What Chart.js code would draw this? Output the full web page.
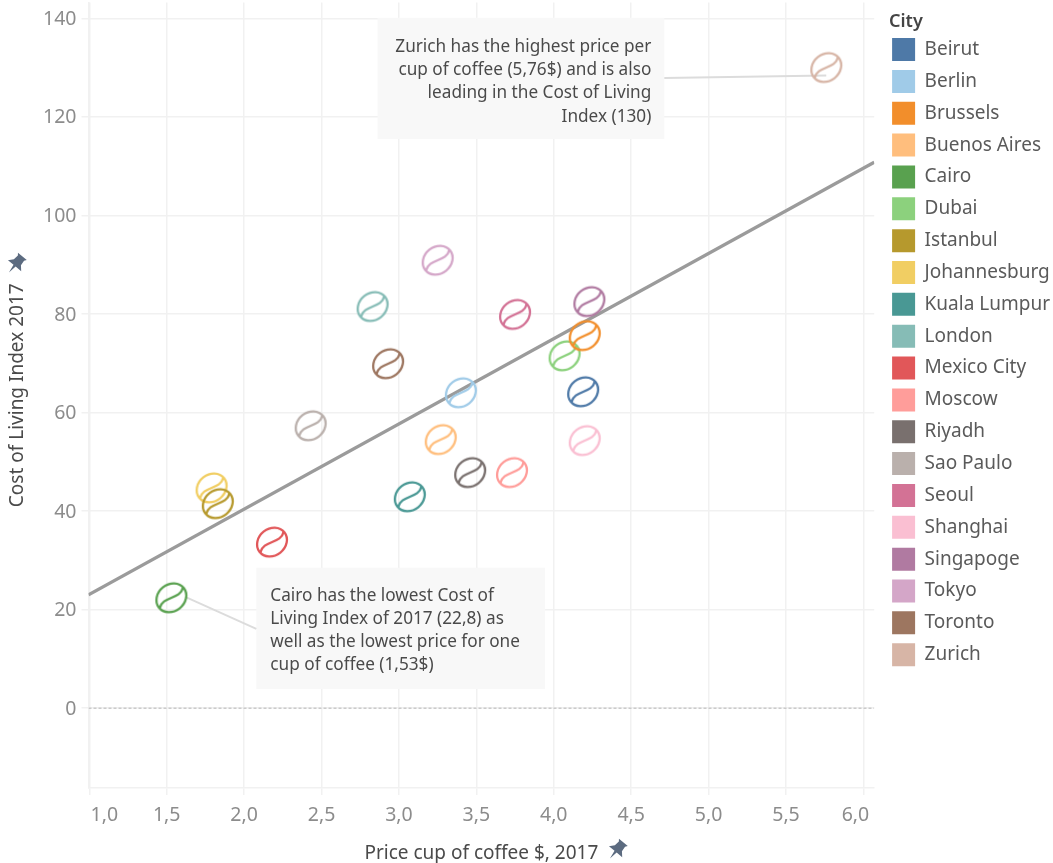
<!DOCTYPE html>
<html><head><meta charset="utf-8">
<style>html,body{margin:0;padding:0;background:#fff}#w{width:1053px;height:863px;position:relative}</style>
<script src="https://cdn.jsdelivr.net/npm/chart.js@4/dist/chart.umd.js"></script>
</head><body><div id="w"><canvas id="c" width="1053" height="863"></canvas></div>
<script>
const cities=["Beirut","Berlin","Brussels","Buenos Aires","Cairo","Dubai","Istanbul","Johannesburg","Kuala Lumpur","London","Mexico City","Moscow","Riyadh","Sao Paulo","Seoul","Shanghai","Singapoge","Tokyo","Toronto","Zurich"];
const price=[4.19,3.40,4.20,3.27,1.53,4.07,1.83,1.79,3.07,2.83,2.18,3.73,3.46,2.43,3.75,4.20,4.23,3.25,2.93,5.76];
const living=[64.2,64,75.6,54.5,22.4,71.5,41.5,44.7,42.9,81.5,33.7,47.8,47.8,57.3,79.9,54.3,82.5,90.9,69.9,130];
const colors=["#4e79a7","#a0cbe8","#f28e2b","#ffbe7d","#59a14f","#8cd17d","#b6992d","#f1ce63","#499894","#86bcb6","#e15759","#ff9d9a","#79706e","#bab0ac","#d37295","#fabfd2","#b07aa1","#d4a6c8","#9d7660","#d7b5a6"];
const xTicks=[1,1.5,2,2.5,3,3.5,4,4.5,5,5.5,6];
const yTicks=[0,20,40,60,80,100,120,140];
const trendX=[0.995,6.07], trendY=[23,110.8];
const zeroX=[0.995,6.07], zeroY=[0,0];
const leadZurichX=[4.714,5.76], leadZurichY=[127.9,128.4];
const leadCairoX=[1.62,2.079], leadCairoY=[22.6,16.1];
const noteZurich=["Zurich has the highest price per","cup of coffee (5,76$) and is also","leading in the Cost of Living","Index (130)"];
const noteCairo=["Cairo has the lowest Cost of","Living Index of 2017 (22,8) as","well as the lowest price for one","cup of coffee (1,53$)"];
const FONT='"Noto Sans"';

function bean(col){
  const cv=document.createElement('canvas');cv.width=40;cv.height=40;
  const g=cv.getContext('2d');
  g.translate(20,20);g.rotate(-38*Math.PI/180);
  g.strokeStyle=col;g.lineWidth=2.3;
  g.beginPath();g.ellipse(0,0,15.8,13.4,0,0,Math.PI*2);g.stroke();
  g.beginPath();g.moveTo(-15.5,1);g.bezierCurveTo(-6,-7,6,7,15.5,-1);g.stroke();
  return cv;
}
const pts=(xs,ys)=>xs.map((x,i)=>({x,y:ys[i]}));
const lineDs=(label,xs,ys,col,w,dash,order)=>({label,data:pts(xs,ys),showLine:true,borderColor:col,borderWidth:w,borderDash:dash,pointRadius:0,order,backgroundColor:col});
const datasets=cities.map((c,i)=>({label:c,data:[{x:price[i],y:living[i]}],backgroundColor:colors[i],borderColor:colors[i],borderWidth:0,pointStyle:bean(colors[i]),pointRadius:16,order:1}));
datasets.push(lineDs('_trend',trendX,trendY,'#9b9b9b',3.4,[],5));
datasets.push(lineDs('_zero',zeroX,zeroY,'#b5b5b5',1,[3,2],6));
datasets.push(lineDs('_leadZ',leadZurichX,leadZurichY,'#dcdcdc',2,[],7));
datasets.push(lineDs('_leadC',leadCairoX,leadCairoY,'#dcdcdc',2,[],7));

function pin(ctx,cx,cy){
  ctx.save();ctx.translate(cx,cy);ctx.rotate(40*Math.PI/180);ctx.scale(1.15,1.1);ctx.fillStyle='#5c6b80';
  ctx.beginPath();
  ctx.moveTo(-5,-9);ctx.lineTo(5,-9);ctx.lineTo(3.5,-7);ctx.lineTo(4,-2);ctx.lineTo(7.5,2);ctx.lineTo(1.2,2);ctx.lineTo(0,10);ctx.lineTo(-1.2,2);ctx.lineTo(-7.5,2);ctx.lineTo(-4,-2);ctx.lineTo(-3.5,-7);ctx.closePath();ctx.fill();
  ctx.restore();
}
const notes={
  id:'notes',
  beforeDraw(chart){
    const l=chart.legend; if(!l._shifted){l.left+=9;l.right+=9;l.top+=26.7;l.bottom+=26.7;l._shifted=true;}
    const s=chart.scales.x,items=s.getLabelItems();
    if(!items._moved){items._moved=true;
      items[0].options.translation[0]+=15;
      items[items.length-1].options.translation[0]-=8;}
    const yi=chart.scales.y.getLabelItems();
    if(!yi._moved){yi._moved=true;yi.forEach(it=>{it.options.translation[1]+=1;});}
  },
  beforeDatasetsDraw(chart){
    const {ctx,scales:{x,y}}=chart;
    const box=(x0,x1,y0,y1)=>{ctx.fillStyle='#f8f8f8';ctx.fillRect(x.getPixelForValue(x0),y.getPixelForValue(y0),x.getPixelForValue(x1)-x.getPixelForValue(x0),y.getPixelForValue(y1)-y.getPixelForValue(y0));};
    box(2.862,4.714,140.1,115.5);
    box(2.079,3.944,28.5,3.9);
  },
  afterDraw(chart){
    const {ctx,scales:{x,y}}=chart;
    ctx.save();ctx.font='17.2px '+FONT;ctx.fillStyle='#4a4a4a';ctx.textBaseline='middle';
    ctx.textAlign='right';
    const zx=x.getPixelForValue(4.714)-13,zy=y.getPixelForValue(140.1)+29;
    noteZurich.forEach((t,i)=>ctx.fillText(t,zx,zy+i*23.3));
    ctx.textAlign='left';
    const cx=x.getPixelForValue(2.079)+14,cy=y.getPixelForValue(28.5)+28;
    noteCairo.forEach((t,i)=>ctx.fillText(t,cx,cy+i*23));
    ctx.font='600 18px '+FONT;ctx.fillStyle='#444';
    ctx.fillText('City',889,22);
    ctx.restore();
    pin(ctx,617,850);pin(ctx,16,264);
  }
};
new Chart(document.getElementById('c'),{
  type:'scatter',
  data:{datasets},
  plugins:[notes],
  options:{
    responsive:false,animation:false,
    layout:{autoPadding:false,padding:{top:2.5,bottom:0,left:0,right:2}},
    plugins:{
      tooltip:{enabled:false},
      legend:{position:'right',align:'start',
        labels:{boxWidth:23,boxHeight:23,padding:8.85,color:'#5a5a5a',font:{family:FONT,size:19},
          filter:(it)=>!it.text.startsWith('_')}
      }
    },
    scales:{
      x:{type:'linear',min:0.995,max:6.07,
        afterBuildTicks:s=>{s.ticks=xTicks.map(value=>({value}));},
        afterFit:s=>{s.height=75;s.paddingLeft=0;s.paddingRight=0;s.paddingTop=0;s.paddingBottom=0;},
        grid:{color:'#f1f1f1',lineWidth:1.5,tickLength:7,tickColor:'#f1f1f1'},
        border:{color:'#f1f1f1',width:1.5},
        ticks:{autoSkip:false,maxRotation:0,padding:9,color:'#8c8c8c',font:{family:FONT,size:19.5},callback:v=>v.toFixed(1).replace('.',',')},
        title:{display:true,text:'Price cup of coffee $, 2017',color:'#4a4a4a',font:{family:FONT,size:19},padding:{top:0,bottom:-2}}
      },
      y:{type:'linear',min:-16.2,max:143.2,
        afterBuildTicks:s=>{s.ticks=yTicks.map(value=>({value}));},
        afterFit:s=>{s.width=88.5;s.paddingLeft=0;s.paddingRight=0;s.paddingTop=0;s.paddingBottom=0;},
        grid:{color:'#f1f1f1',lineWidth:1.5,tickLength:7,tickColor:'#f1f1f1'},
        border:{color:'#f1f1f1',width:1.5},
        ticks:{autoSkip:false,padding:5,color:'#8c8c8c',font:{family:FONT,size:19.5}},
        title:{display:true,text:'Cost of Living Index 2017',color:'#4a4a4a',font:{family:FONT,size:19},padding:{top:6,bottom:0}}
      }
    }
  }
});
</script></body></html>
